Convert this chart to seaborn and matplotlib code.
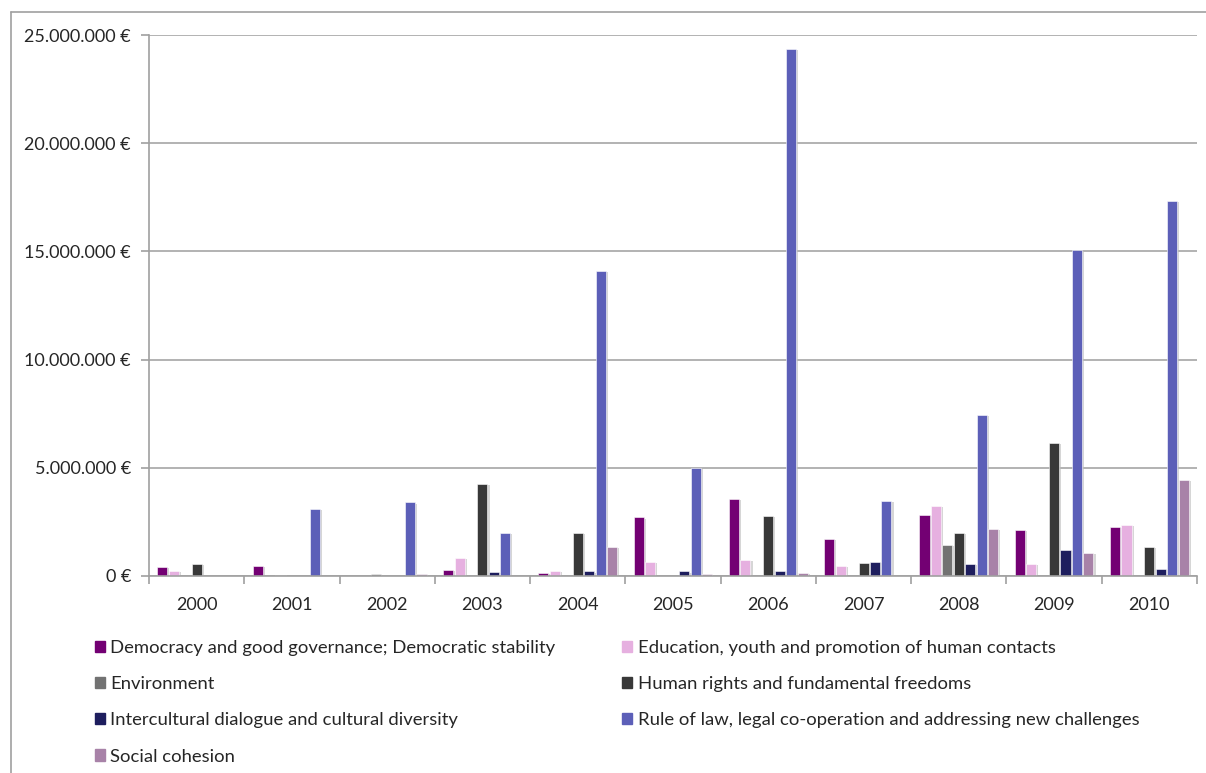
import matplotlib
matplotlib.use("Agg")
from matplotlib import pyplot as plt
from matplotlib import patheffects
from matplotlib.lines import Line2D
from matplotlib.ticker import FuncFormatter, MultipleLocator
import seaborn as sns
import pandas as pd

years = ["2000", "2001", "2002", "2003", "2004", "2005", "2006", "2007", "2008", "2009", "2010"]
themes = [
    "Democracy and good governance; Democratic stability",
    "Education, youth and promotion of human contacts",
    "Environment",
    "Human rights and fundamental freedoms",
    "Intercultural dialogue and cultural diversity",
    "Rule of law, legal co-operation and addressing new challenges",
    "Social cohesion",
]
# values in euro, per year
democracy = [0.42e6, 0.46e6, 0, 0.28e6, 0.14e6, 2.72e6, 3.56e6, 1.71e6, 2.82e6, 2.13e6, 2.26e6]
education = [0.24e6, 0, 0, 0.85e6, 0.23e6, 0.65e6, 0.74e6, 0.46e6, 3.23e6, 0.55e6, 2.36e6]
environment = [0, 0.05e6, 0.08e6, 0, 0, 0, 0, 0, 1.43e6, 0, 0]
human_rights = [0.56e6, 0, 0, 4.25e6, 1.99e6, 0, 2.77e6, 0.6e6, 1.99e6, 6.15e6, 1.34e6]
intercultural = [0, 0, 0, 0.18e6, 0.22e6, 0.22e6, 0.23e6, 0.65e6, 0.55e6, 1.2e6, 0.32e6]
rule_of_law = [0, 3.1e6, 3.4e6, 1.99e6, 14.1e6, 4.99e6, 24.35e6, 3.47e6, 7.44e6, 15.06e6, 17.33e6]
social = [0, 0, 0.07e6, 0, 1.34e6, 0.08e6, 0.15e6, 0, 2.17e6, 1.06e6, 4.44e6]

colors = ["#730073", "#E6B0E0", "#727272", "#383838", "#1E1E5E", "#5C5FB8", "#A882A8"]

series = [democracy, education, environment, human_rights, intercultural, rule_of_law, social]
rows = []
for theme, vals in zip(themes, series):
    for y, v in zip(years, vals):
        rows.append({"year": y, "theme": theme, "value": v})
df = pd.DataFrame(rows)

sns.set_style("white")
plt.rcParams["font.family"] = ["Lato", "DejaVu Sans"]

fig = plt.figure(figsize=(12.06, 7.73), dpi=100)
ax = fig.add_axes([149 / 1206, 1 - 576 / 773, (1197 - 149) / 1206, (576 - 35) / 773])

sns.barplot(data=df, x="year", y="value", hue="theme", hue_order=themes, order=years,
            palette=colors, width=0.84, gap=0.12, ax=ax, legend=False, saturation=1)

for p in ax.patches:
    p.set_edgecolor("white")
    p.set_linewidth(0.4)
    p.set_path_effects([patheffects.SimplePatchShadow(offset=(1.5, -1), shadow_rgbFace="#bbbbbb", alpha=0.6),
                        patheffects.Normal()])

ax.set_ylim(0, 25e6)
ax.set_xlim(-0.5, len(years) - 0.5)
ax.yaxis.set_major_locator(MultipleLocator(5e6))
ax.yaxis.set_major_formatter(FuncFormatter(lambda v, pos: f"{int(v):,}".replace(",", ".") + " €"))
ax.grid(axis="y", color="#a6a6a6", linewidth=1.2)
ax.set_axisbelow(True)
ax.set_xlabel("")
ax.set_ylabel("")

for side in ["top", "right"]:
    ax.spines[side].set_visible(False)
for side in ["left", "bottom"]:
    ax.spines[side].set_color("#a0a0a0")
    ax.spines[side].set_linewidth(1.2)

ax.tick_params(axis="y", length=6, width=1.2, color="#a0a0a0", labelsize=13, pad=7, left=True)
ax.tick_params(axis="x", length=0, labelsize=13, pad=15)
# category boundary ticks
ax.set_xticks([i - 0.5 for i in range(len(years) + 1)], minor=True)
ax.tick_params(axis="x", which="minor", length=6, width=1.2, color="#a0a0a0", bottom=True)

handles = [plt.Rectangle((0, 0), 1, 1, color=c) for c in colors]
order = [0, 2, 4, 6, 1, 3, 5]
fig.legend([handles[i] for i in order], [themes[i] for i in order], ncol=2,
           loc="upper left", bbox_to_anchor=(78 / 1206, 1 - 623 / 773), frameon=False,
           fontsize=13.3, handlelength=0.55, handleheight=0.55, handletextpad=0.3,
           labelspacing=1.1, columnspacing=3.6)

# outer chart border (left and top only visible)
fig.add_artist(Line2D([11 / 1206, 11 / 1206], [0, 1 - 12 / 773], color="#a0a0a0", linewidth=1.2))
fig.add_artist(Line2D([11 / 1206, 1], [1 - 12 / 773, 1 - 12 / 773], color="#a0a0a0", linewidth=1.2))

fig.savefig("out.png", dpi=100)
plt.close(fig)
